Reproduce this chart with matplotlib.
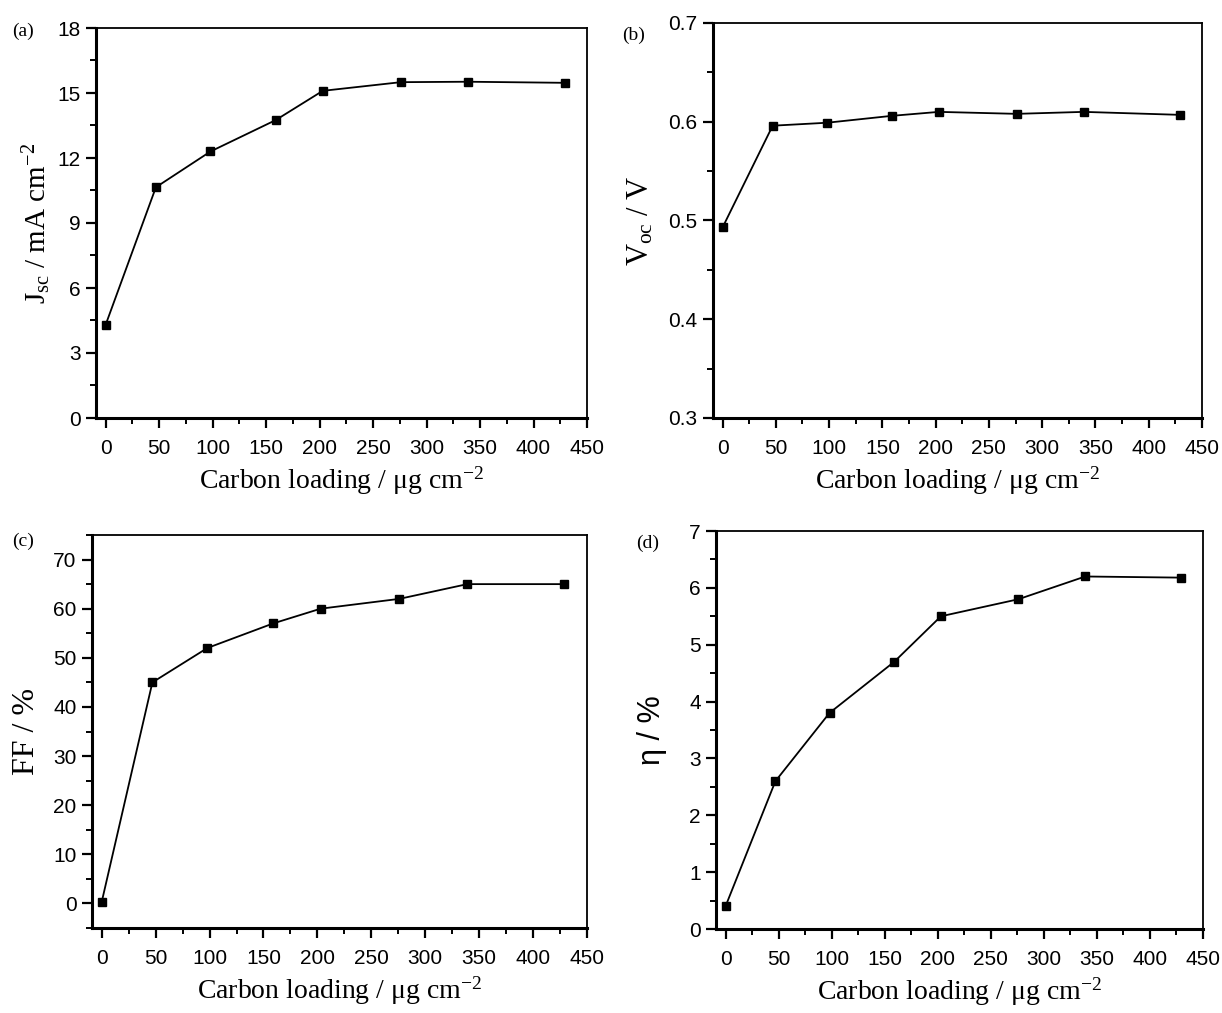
#!/usr/bin/env python3
"""Photovoltaic parameters vs. carbon loading of the counter electrode (4 panels)."""
import matplotlib
matplotlib.use("Agg")
import matplotlib.pyplot as plt
from matplotlib.ticker import MultipleLocator

plt.rcParams["font.family"] = ["Liberation Sans", "DejaVu Sans"]
plt.rcParams["mathtext.fontset"] = "custom"
plt.rcParams["mathtext.rm"] = "Liberation Serif"
plt.rcParams["mathtext.it"] = "Liberation Serif:italic"
plt.rcParams["mathtext.bf"] = "Liberation Serif:bold"

SERIF = ["Liberation Serif", "DejaVu Serif"]
SANS = ["Liberation Sans", "DejaVu Sans"]

# carbon loading (ug cm^-2)
loading = [0, 47, 98, 159, 203, 276, 339, 429]

jsc = [4.3, 10.65, 12.3, 13.75, 15.1, 15.5, 15.52, 15.47]
voc = [0.493, 0.596, 0.599, 0.606, 0.610, 0.608, 0.610, 0.607]
ff = [0.3, 45, 52, 57, 60, 62, 65, 65]
eta = [0.4, 2.6, 3.8, 4.7, 5.5, 5.8, 6.2, 6.18]

ylabels = [r"$\mathrm{J_{sc}}$ / mA cm$^{\mathrm{-2}}$",
           r"$\mathrm{V_{oc}}$ / V",
           "FF / %",
           "η / %"]
ylabel_fonts = [SERIF, SERIF, SERIF, SANS]
ylabel_sizes = [21, 22, 23, 22]
panel_tags = ["(a)", "(b)", "(c)", "(d)"]

# left, top, right, bottom in figure pixels (1222 x 1013)
W, H = 1222, 1013
boxes_px = [(96, 28, 587, 418),
            (713, 23, 1202, 418),
            (92, 535, 587, 928),
            (716, 531, 1203, 929)]
ylims = [(0, 18), (0.3, 0.7), (-5, 75), (0, 7)]
ymaj = [3, 0.1, 10, 1]
ymin = [1.5, 0.05, 5, 0.5]
ylab_x = [-0.088, -0.117, -0.103, -0.100]
tag_pos = [(12, 36), (622, 40), (12, 546), (636, 548)]

fig = plt.figure(figsize=(W / 100, H / 100), dpi=100)

series = [jsc, voc, ff, eta]
for i, vals in enumerate(series):
    x0, y0, x1, y1 = boxes_px[i]
    ax = fig.add_axes([x0 / W, 1 - y1 / H, (x1 - x0) / W, (y1 - y0) / H])
    ax.plot(loading, vals, color="black", lw=1.3, marker="s", ms=5.8,
            markerfacecolor="black", markeredgecolor="black")

    ax.set_xlim(-9, 450)
    ax.set_ylim(*ylims[i])
    ax.xaxis.set_major_locator(MultipleLocator(50))
    ax.xaxis.set_minor_locator(MultipleLocator(25))
    ax.yaxis.set_major_locator(MultipleLocator(ymaj[i]))
    ax.yaxis.set_minor_locator(MultipleLocator(ymin[i]))
    if i == 1:
        ax.yaxis.set_major_formatter(plt.FormatStrFormatter("%.1f"))

    ax.tick_params(which="major", direction="out", length=7, width=1.6,
                   labelsize=15, pad=4, top=False, right=False)
    ax.tick_params(which="minor", direction="out", length=4, width=1.4,
                   top=False, right=False)
    ax.tick_params(axis="x", which="major", pad=8)

    for side in ("left", "bottom"):
        ax.spines[side].set_linewidth(2.2)
    for side in ("top", "right"):
        ax.spines[side].set_linewidth(1.3)

    ax.set_xlabel("Carbon loading / μg cm$^{\\mathrm{-2}}$", family=SERIF,
                  fontsize=20, labelpad=5)
    ax.set_ylabel(ylabels[i], family=ylabel_fonts[i], fontsize=ylabel_sizes[i])
    ax.yaxis.set_label_coords(ylab_x[i], 0.5)

    tx, ty = tag_pos[i]
    fig.text(tx / W, 1 - ty / H, panel_tags[i], family=SERIF, fontsize=14)

fig.savefig("out.png", dpi=100)
